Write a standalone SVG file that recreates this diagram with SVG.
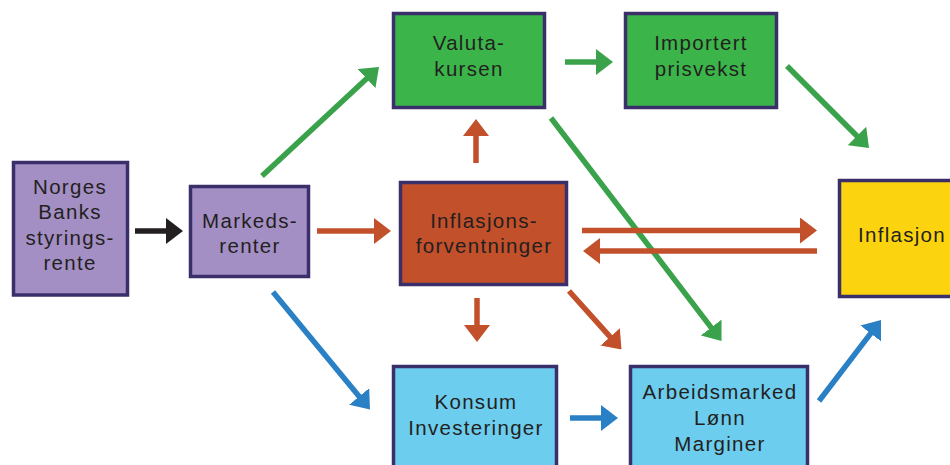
<svg xmlns="http://www.w3.org/2000/svg" width="950" height="465" viewBox="0 0 950 465">
<style>
.box{stroke:#3b2f6b;stroke-width:3.5}
.purple{fill:#a48fc5}
.green{fill:#3bb54a}
.orange{fill:#c2502b}
.yellow{fill:#fcd30f}
.blue{fill:#6dcdee}
text{font-family:"Liberation Sans",Arial,sans-serif;font-size:20.5px;letter-spacing:1.3px;fill:#231f20;text-anchor:middle}
.c line{stroke-width:5.5;fill:none}
.k{stroke:#231f20;marker-end:url(#mk)}
.g{stroke:#3aa24a;marker-end:url(#mg)}
.o{stroke:#c2502b;marker-end:url(#mo)}
.b{stroke:#2a80c5;marker-end:url(#mb)}
</style>
<defs>
<marker id="mk" viewBox="0 0 17 26" refX="1" refY="13" markerWidth="17" markerHeight="26" markerUnits="userSpaceOnUse" orient="auto"><path d="M0,0 L17,13 L0,26 z" fill="#231f20"/></marker>
<marker id="mg" viewBox="0 0 17 26" refX="1" refY="13" markerWidth="17" markerHeight="26" markerUnits="userSpaceOnUse" orient="auto"><path d="M0,0 L17,13 L0,26 z" fill="#3aa24a"/></marker>
<marker id="mo" viewBox="0 0 17 26" refX="1" refY="13" markerWidth="17" markerHeight="26" markerUnits="userSpaceOnUse" orient="auto"><path d="M0,0 L17,13 L0,26 z" fill="#c2502b"/></marker>
<marker id="mb" viewBox="0 0 17 26" refX="1" refY="13" markerWidth="17" markerHeight="26" markerUnits="userSpaceOnUse" orient="auto"><path d="M0,0 L17,13 L0,26 z" fill="#2a80c5"/></marker>
</defs>
<rect width="950" height="465" fill="#ffffff"/>
<g class="c" id="connectors">
<line class="k" x1="135" y1="231" x2="167" y2="231"/>
<line class="g" x1="565" y1="62" x2="597" y2="62"/>
<line class="g" x1="262" y1="176" x2="367.3" y2="77.9"/>
<line class="g" x1="787" y1="66" x2="857.7" y2="136.7"/>
<line class="g" x1="551" y1="118" x2="711.8" y2="328.3"/>
<line class="o" x1="317" y1="231" x2="375" y2="231"/>
<line class="o" x1="476" y1="163" x2="476" y2="135"/>
<line class="o" x1="582" y1="230.5" x2="801" y2="230.5"/>
<line class="o" x1="817" y1="251" x2="599" y2="251"/>
<line class="o" x1="477" y1="298" x2="477" y2="326"/>
<line class="o" x1="569" y1="291" x2="610.8" y2="337.6"/>
<line class="b" x1="273" y1="292" x2="359.8" y2="397.2"/>
<line class="b" x1="570" y1="418" x2="602" y2="418"/>
<line class="b" x1="819" y1="401" x2="871.3" y2="332.7"/>
</g>
<g id="norges">
<rect class="box purple" x="13.5" y="162.5" width="114" height="132.5"/>
<text x="70" y="194">Norges</text>
<text x="70" y="219">Banks</text>
<text x="70" y="245">styrings-</text>
<text x="70" y="270">rente</text>
</g>
<g id="markedsrenter">
<rect class="box purple" x="190.5" y="186.5" width="118" height="90"/>
<text x="250" y="228">Markeds-</text>
<text x="250" y="253">renter</text>
</g>
<g id="valutakursen">
<rect class="box green" x="393.5" y="13.5" width="151" height="94"/>
<text x="469" y="50">Valuta-</text>
<text x="469" y="76">kursen</text>
</g>
<g id="importert">
<rect class="box green" x="625.5" y="13.5" width="151" height="94"/>
<text x="701" y="50">Importert</text>
<text x="701" y="76">prisvekst</text>
</g>
<g id="forventninger">
<rect class="box orange" x="400.5" y="182.5" width="166" height="102"/>
<text x="484" y="228">Inflasjons-</text>
<text x="484" y="253">forventninger</text>
</g>
<g id="inflasjon">
<rect class="box yellow" x="839.5" y="180.5" width="125" height="116"/>
<text x="902" y="242">Inflasjon</text>
</g>
<g id="konsum">
<rect class="box blue" x="393.5" y="366.5" width="163" height="110"/>
<text x="476" y="409">Konsum</text>
<text x="476" y="435">Investeringer</text>
</g>
<g id="arbeidsmarked">
<rect class="box blue" x="630.5" y="366.5" width="177" height="110"/>
<text x="720" y="399">Arbeidsmarked</text>
<text x="720" y="425">Lønn</text>
<text x="720" y="451">Marginer</text>
</g>
</svg>
